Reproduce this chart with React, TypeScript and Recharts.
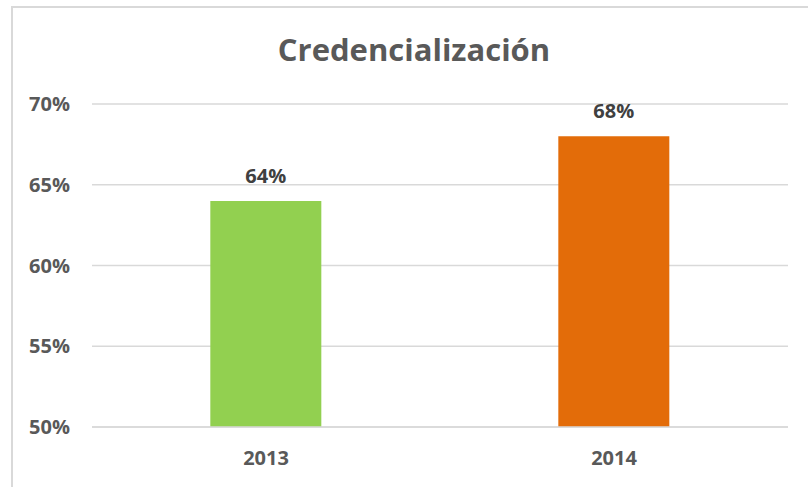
import { BarChart, Bar, XAxis, YAxis, CartesianGrid, Cell, LabelList } from 'recharts';

const years = ['2013', '2014'];
const credencial = [64, 68];
const barColors = ['#92D050', '#E36C09'];
const yTicks = [50, 55, 60, 65, 70];

const data = years.map((year, i) => ({ year, value: credencial[i] }));

const textColor = '#595959';
const font = '"Open Sans", sans-serif';

export default function App() {
  return (
    <div
      style={{
        position: 'absolute',
        left: 0,
        top: 0,
        width: 808,
        height: 487,
        overflow: 'hidden',
        background: '#fff',
        fontFamily: font,
      }}
    >
      <div
        style={{
          position: 'absolute',
          left: 11,
          top: 6,
          width: 820,
          height: 500,
          borderTop: '2px solid #d9d9d9',
          borderLeft: '2px solid #d9d9d9',
        }}
      />
      <div
        style={{
          position: 'absolute',
          left: 0,
          width: 828,
          top: 28,
          textAlign: 'center',
          fontSize: 31,
          fontWeight: 700,
          color: textColor,
          lineHeight: '42px',
        }}
      >
        Credencialización
      </div>
      <div style={{ position: 'absolute', left: 0, top: 0 }}>
        <BarChart
          width={808}
          height={487}
          data={data}
          margin={{ top: 104, right: 20, bottom: 0, left: 12 }}
          barCategoryGap="34%"
        >
          <CartesianGrid vertical={false} stroke="#d9d9d9" strokeWidth={1.5} />
          <XAxis
            dataKey="year"
            height={60}
            axisLine={{ stroke: '#d9d9d9', strokeWidth: 1.5 }}
            tickLine={false}
            tickMargin={18}
            tick={{ fill: textColor, fontSize: 20, fontWeight: 700, fontFamily: font }}
          />
          <YAxis
            width={80}
            domain={[50, 70]}
            ticks={yTicks}
            interval={0}
            allowDataOverflow
            axisLine={false}
            tickLine={false}
            tickMargin={16}
            tickFormatter={(v: number) => `${v}%`}
            tick={{ fill: textColor, fontSize: 20, fontWeight: 700, fontFamily: font }}
          />
          <Bar dataKey="value" isAnimationActive={false}>
            {data.map((d, i) => (
              <Cell key={d.year} fill={barColors[i]} />
            ))}
            <LabelList
              dataKey="value"
              position="top"
              offset={18}
              formatter={(v: number) => `${v}%`}
              fill="#404040"
              fontSize={20}
              fontWeight={700}
              fontFamily={font}
            />
          </Bar>
        </BarChart>
      </div>
    </div>
  );
}
